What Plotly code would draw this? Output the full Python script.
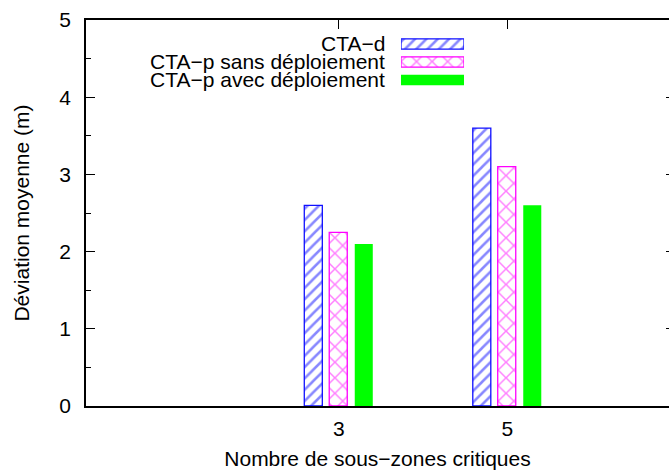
import plotly.graph_objects as go

categories = [3, 5]
series_names = ["CTA−d", "CTA−p sans déploiement", "CTA−p avec déploiement"]
cta_d = [2.6, 3.6]
cta_p_sans = [2.25, 3.1]
cta_p_avec = [2.1, 2.6]
y_ticks = [0, 1, 2, 3, 4, 5]
x_ticks = [3, 5]

FONT = "Liberation Sans, Arial, Helvetica, sans-serif"
FS = 21
styles = [
    dict(color="white", line=dict(color="#1010ff", width=1.3),
         pattern=dict(shape="/", fgcolor="#1010ff", bgcolor="white", size=8, solidity=0.32)),
    dict(color="white", line=dict(color="#ff00ff", width=1.3),
         pattern=dict(shape="x", fgcolor="#ff00ff", bgcolor="white", size=11, solidity=0.25)),
    dict(color="#00ff00", line=dict(color="#00ff00", width=0)),
]
values = [cta_d, cta_p_sans, cta_p_avec]
offsets = [-0.409, -0.113, 0.19]

fig = go.Figure()
for name, vals, st, off in zip(series_names, values, styles, offsets):
    fig.add_trace(go.Bar(x=categories, y=vals, name=name, marker=st,
                         width=0.214, offset=off, showlegend=False))

# manual legend swatches (text to the left of the sample, gnuplot style)
for name, st in zip(series_names, styles):
    fig.add_trace(go.Bar(x=[1], y=[name], orientation="h", marker=st, width=0.57,
                         xaxis="x2", yaxis="y2", showlegend=False, hoverinfo="skip"))
    fig.add_annotation(x=0.516, xref="paper", y=name, yref="y2", text=name,
                       showarrow=False, xanchor="right", yanchor="middle",
                       font=dict(family=FONT, size=FS, color="black"))

# right-side ticks
fig.add_trace(go.Scatter(x=[], y=[], yaxis="y3", showlegend=False))

fig.update_layout(
    width=669, height=472,
    margin=dict(l=86, r=0, t=20, b=66),
    paper_bgcolor="white", plot_bgcolor="white",
    font=dict(family=FONT, size=FS, color="black"),
    barmode="overlay",
    xaxis=dict(range=[0, 6.92], tickvals=x_ticks, ticktext=[str(v) for v in x_ticks],
               ticks="inside", ticklen=9, tickcolor="black", tickwidth=1,
               showline=True, linecolor="black", linewidth=1.5, mirror="ticks",
               showgrid=False, zeroline=False, layer="below traces",
               ticklabelstandoff=3, automargin=False,
               title=dict(text="Nombre de sous−zones critiques", standoff=12,
                          font=dict(size=FS))),
    yaxis=dict(range=[0, 5], tickvals=y_ticks, ticks="inside", ticklen=9,
               tickcolor="black", tickwidth=1, showline=True, linecolor="black",
               linewidth=1.5, showgrid=False, zeroline=False, ticklabelstandoff=9,
               automargin=False,
               minor=dict(dtick=0.5, ticks="inside", ticklen=5, tickcolor="black"),
               title=dict(text="Déviation moyenne (m)", standoff=24,
                          font=dict(size=FS))),
    yaxis3=dict(overlaying="y", side="right", range=[0, 5], tickvals=y_ticks,
                ticks="inside", ticklen=3, tickcolor="black", showticklabels=False,
                showline=False, showgrid=False, zeroline=False, automargin=False),
    xaxis2=dict(domain=[0.5403, 0.6484], range=[0, 1], visible=False, anchor="y2"),
    yaxis2=dict(domain=[0.8096, 0.973], visible=False, anchor="x2",
                categoryorder="array", categoryarray=series_names,
                autorange="reversed"),
)

fig.write_html(
    "out.html",
    config={"displayModeBar": False},
    post_script="document.body.style.margin='0';document.body.style.overflow='hidden';",
)
